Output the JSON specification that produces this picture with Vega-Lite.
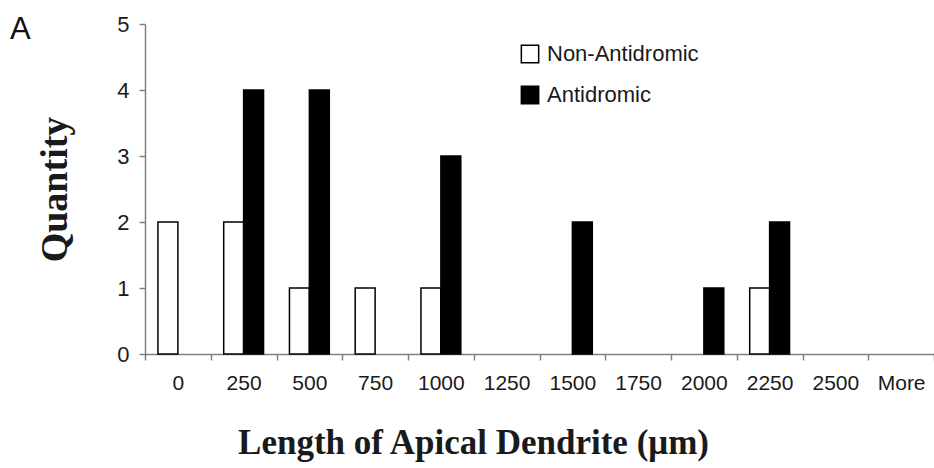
{
  "$schema": "https://vega.github.io/schema/vega-lite/v6.json",
  "width": 789,
  "height": 330,
  "autosize": {"type": "none"},
  "padding": {"left": 145, "top": 24, "right": 0, "bottom": 114},
  "background": "white",
  "title": {
    "text": "A",
    "anchor": "start",
    "frame": "group",
    "orient": "top",
    "font": "Liberation Sans",
    "fontSize": 31,
    "fontWeight": "normal",
    "color": "#111",
    "baseline": "top",
    "offset": 0,
    "dx": -135,
    "dy": 33
  },
  "config": {
    "view": {"stroke": null},
    "font": "Liberation Sans"
  },
  "data": {
    "values": [
      {"bin": "0", "group": "Non-Antidromic", "count": 2},
      {"bin": "0", "group": "Antidromic", "count": 0},
      {"bin": "250", "group": "Non-Antidromic", "count": 2},
      {"bin": "250", "group": "Antidromic", "count": 4},
      {"bin": "500", "group": "Non-Antidromic", "count": 1},
      {"bin": "500", "group": "Antidromic", "count": 4},
      {"bin": "750", "group": "Non-Antidromic", "count": 1},
      {"bin": "750", "group": "Antidromic", "count": 0},
      {"bin": "1000", "group": "Non-Antidromic", "count": 1},
      {"bin": "1000", "group": "Antidromic", "count": 3},
      {"bin": "1250", "group": "Non-Antidromic", "count": 0},
      {"bin": "1250", "group": "Antidromic", "count": 0},
      {"bin": "1500", "group": "Non-Antidromic", "count": 0},
      {"bin": "1500", "group": "Antidromic", "count": 2},
      {"bin": "1750", "group": "Non-Antidromic", "count": 0},
      {"bin": "1750", "group": "Antidromic", "count": 0},
      {"bin": "2000", "group": "Non-Antidromic", "count": 0},
      {"bin": "2000", "group": "Antidromic", "count": 1},
      {"bin": "2250", "group": "Non-Antidromic", "count": 1},
      {"bin": "2250", "group": "Antidromic", "count": 2},
      {"bin": "2500", "group": "Non-Antidromic", "count": 0},
      {"bin": "2500", "group": "Antidromic", "count": 0},
      {"bin": "More", "group": "Non-Antidromic", "count": 0},
      {"bin": "More", "group": "Antidromic", "count": 0}
    ]
  },
  "transform": [{"filter": "datum.count > 0"}],
  "mark": {"type": "bar", "stroke": "black", "strokeWidth": 1.5},
  "encoding": {
    "x": {
      "field": "bin",
      "type": "nominal",
      "sort": ["0", "250", "500", "750", "1000", "1250", "1500", "1750", "2000", "2250", "2500", "More"],
      "scale": {
        "domain": ["0", "250", "500", "750", "1000", "1250", "1500", "1750", "2000", "2250", "2500", "More"],
        "paddingInner": 0,
        "paddingOuter": 0
      },
      "axis": {
        "title": "Length of Apical Dendrite (μm)",
        "titleFont": "Liberation Serif",
        "titleFontSize": 35,
        "titleFontWeight": "bold",
        "titleColor": "#1a1a1a",
        "titlePadding": 32,
        "titleX": 328,
        "labelAngle": 0,
        "labelFontSize": 21,
        "labelColor": "#1a1a1a",
        "labelPadding": 12,
        "domainColor": "#808080",
        "domainWidth": 1.5,
        "tickColor": "#808080",
        "tickWidth": 1.5,
        "tickSize": 6,
        "tickBand": "extent",
        "grid": false
      }
    },
    "xOffset": {
      "field": "group",
      "type": "nominal",
      "scale": {"domain": ["Non-Antidromic", "Antidromic"], "paddingInner": 0, "paddingOuter": 0.65}
    },
    "y": {
      "field": "count",
      "type": "quantitative",
      "scale": {"domain": [0, 5]},
      "axis": {
        "title": "Quantity",
        "titleFont": "Liberation Serif",
        "titleFontSize": 38,
        "titleFontWeight": "bold",
        "titleColor": "#1a1a1a",
        "titlePadding": 42,
        "values": [0, 1, 2, 3, 4, 5],
        "format": "d",
        "labelFontSize": 22,
        "labelColor": "#1a1a1a",
        "labelPadding": 10,
        "domainColor": "#808080",
        "domainWidth": 1.5,
        "tickColor": "#808080",
        "tickWidth": 1.5,
        "tickSize": 6,
        "grid": false
      }
    },
    "color": {
      "field": "group",
      "type": "nominal",
      "scale": {"domain": ["Non-Antidromic", "Antidromic"], "range": ["white", "black"]},
      "legend": {
        "title": null,
        "orient": "none",
        "legendX": 374,
        "legendY": 19,
        "symbolType": "square",
        "symbolSize": 300,
        "symbolStrokeColor": "black",
        "symbolStrokeWidth": 1.5,
        "labelFontSize": 22,
        "labelColor": "#1a1a1a",
        "labelOffset": 6,
        "rowPadding": 17
      }
    }
  }
}
